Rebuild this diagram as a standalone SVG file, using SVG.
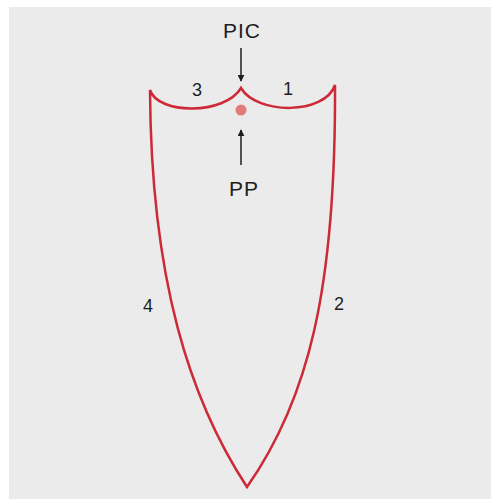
<svg xmlns="http://www.w3.org/2000/svg" width="491" height="499" viewBox="0 0 491 499">
<style>
.lbl{font-family:"Liberation Sans",Arial,sans-serif;font-size:18px;fill:#1e1e1e;text-anchor:middle}
.big{font-size:21px;letter-spacing:1px}
.outline{fill:none;stroke:#cc2a36;stroke-width:2.5;stroke-linejoin:miter}
.arr{stroke:#1e1e1e;stroke-width:1.5;fill:none}
</style>
<defs>
<marker id="ah" viewBox="0 0 10 10" refX="9" refY="5" markerWidth="7" markerHeight="7" markerUnits="userSpaceOnUse" orient="auto">
<path d="M0,0 L10,5 L0,10 z" fill="#1e1e1e"/>
</marker>
</defs>
<rect width="491" height="499" fill="#ffffff"/>
<rect x="9" y="7" width="482" height="492" fill="#ebebeb"/>
<g id="shape">
<path class="outline" d="M150,90 C158,115 225,115 241,88 C257,115 325,115 335,85 C336,290 308,400 247,487 C190,400 151,280 150,90 Z"/>
</g>
<g id="pp-dot"><circle cx="241" cy="110" r="5.5" fill="#e27b7b"/></g>
<g id="connectors">
<line class="arr" x1="241" y1="48" x2="241" y2="81" marker-end="url(#ah)"/>
<line class="arr" x1="241" y1="165" x2="241" y2="130" marker-end="url(#ah)"/>
</g>
<g id="labels">
<text class="lbl big" x="242" y="37.5">PIC</text>
<text class="lbl big" x="244" y="196">PP</text>
<text class="lbl" x="197" y="96">3</text>
<text class="lbl" x="288" y="95">1</text>
<text class="lbl" x="148" y="312">4</text>
<text class="lbl" x="339" y="310">2</text>
</g>
</svg>
